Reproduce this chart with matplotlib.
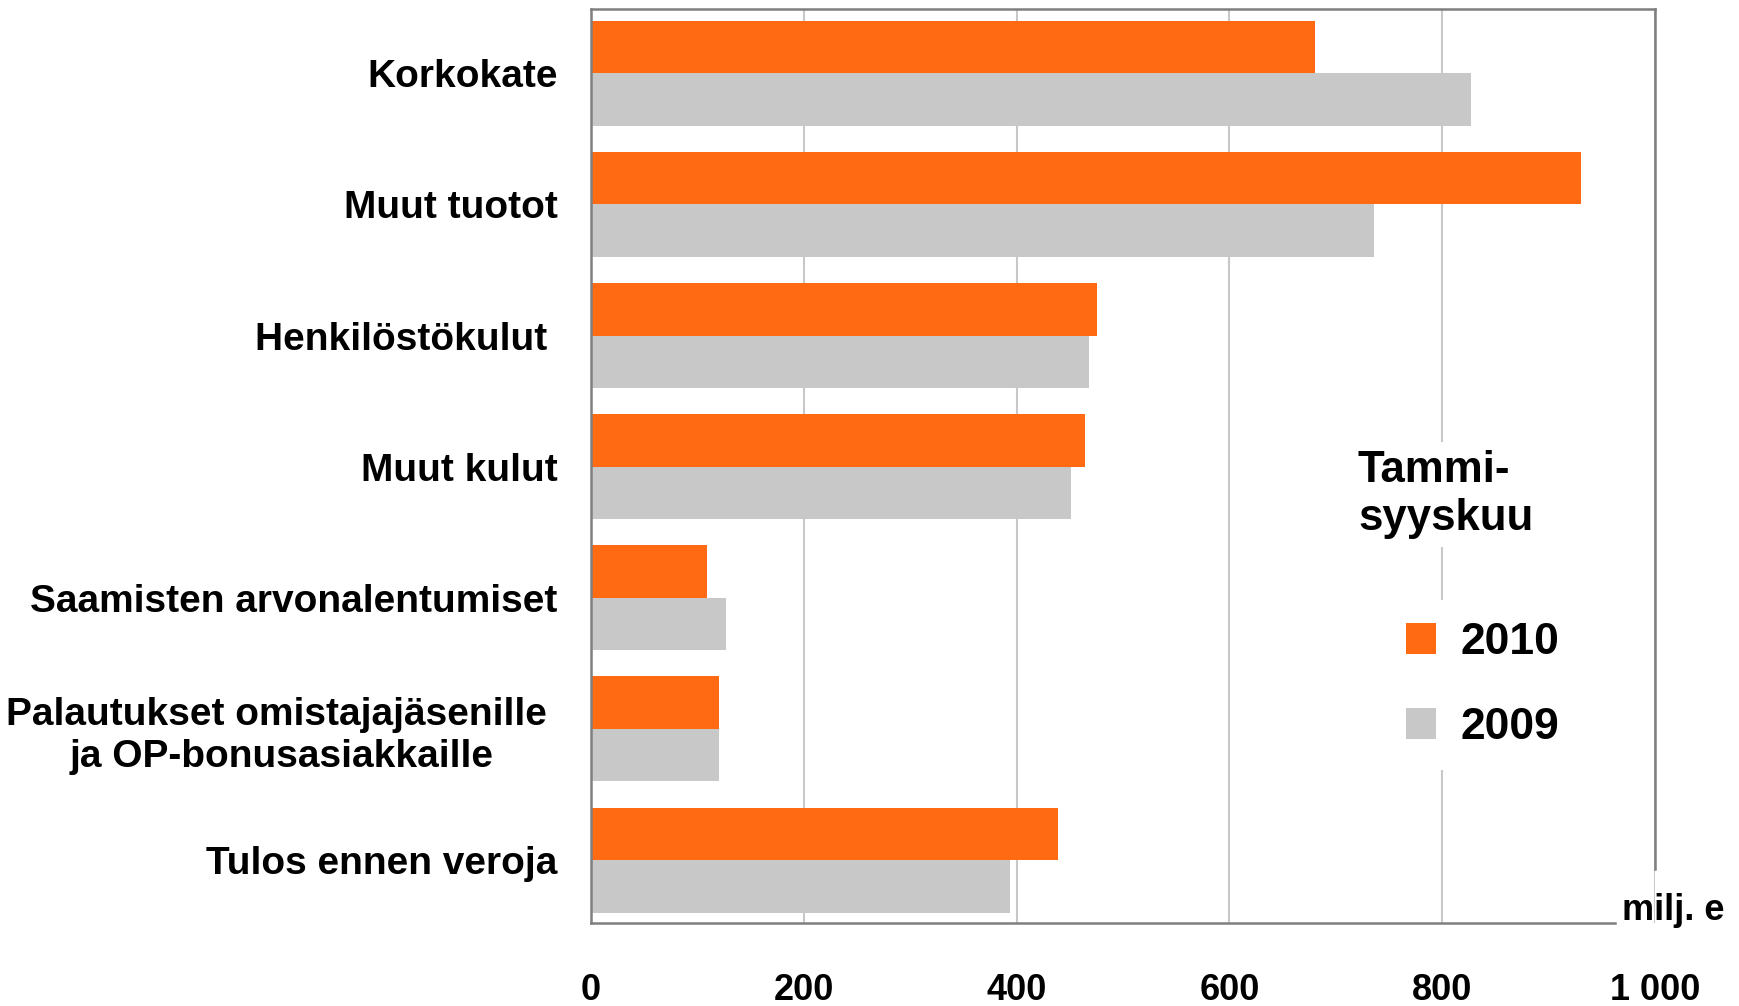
import matplotlib.pyplot as plt
import numpy as np
from matplotlib.patches import Patch

plt.rcParams['font.family'] = ['Liberation Sans', 'DejaVu Sans']
plt.rcParams['font.weight'] = 'bold'

kategoriat = [
    "Korkokate",
    "Muut tuotot",
    "Henkilöstökulut ",
    "Muut kulut",
    "Saamisten arvonalentumiset",
    "Palautukset omistajajäsenille \nja OP-bonusasiakkaille",
    "Tulos ennen veroja",
]
arvot_2010 = [680, 930, 476, 464, 109, 120, 439]
arvot_2009 = [827, 736, 468, 451, 127, 120, 394]
x_tikit = [0, 200, 400, 600, 800, 1000]
x_tikki_tekstit = ["0", "200", "400", "600", "800", "1 000"]

ORANSSI = "#FF6A13"
HARMAA = "#C8C8C8"

fig = plt.figure(figsize=(17.39, 10.06), dpi=100)
ax = fig.add_axes([591 / 1739, 83 / 1006, 1064 / 1739, 914 / 1006])

y = np.arange(len(kategoriat))
h = 0.40
ax.barh(y - h / 2, arvot_2010, height=h, color=ORANSSI, zorder=2, label="2010")
ax.barh(y + h / 2, arvot_2009, height=h, color=HARMAA, zorder=2, label="2009")

ax.set_xlim(0, 1000)
ax.set_ylim(6.48, -0.49)

ax.set_xticks(x_tikit)
ax.set_xticklabels(x_tikki_tekstit, fontsize=26, fontweight="bold")
ax.set_yticks(y)
ax.set_yticklabels(kategoriat, fontsize=28, fontweight="bold",
                   multialignment="center", linespacing=1.22)
ax.tick_params(axis="x", length=0, pad=36)
ax.tick_params(axis="y", length=0, pad=24)

ax.grid(axis="x", color="#C8C8C8", linewidth=1.5, zorder=0)
ax.set_axisbelow(True)

for s in ax.spines.values():
    s.set_color("#7F7F7F")
    s.set_linewidth(1.8)
ax.spines["right"].set_bounds(-0.49, 6.07)
ax.spines["bottom"].set_bounds(0, 962)

fig.text(1622 / 1739, 1 - 920 / 1006, "milj. e", fontsize=26, fontweight="bold",
         ha="left", va="baseline")

fig.text(1358 / 1739, 1 - 450 / 1006, "Tammi-\nsyyskuu", fontsize=31.5, fontweight="bold",
         ha="left", va="top", linespacing=1.22,
         bbox=dict(facecolor="white", edgecolor="none", pad=6))

kahvat = [Patch(facecolor=ORANSSI), Patch(facecolor=HARMAA)]
leg = fig.legend(kahvat, ["2010", "2009"], loc="upper left",
                 bbox_to_anchor=(1384 / 1739, 1 - 600 / 1006),
                 prop=dict(size=32, weight="bold"),
                 frameon=True, facecolor="white", edgecolor="none", fancybox=False,
                 framealpha=1, handlelength=0.675, handleheight=0.675,
                 handletextpad=0.55, labelspacing=0.99, borderpad=0.5,
                 borderaxespad=0)

fig.savefig("out.png", dpi=100, facecolor="white")
